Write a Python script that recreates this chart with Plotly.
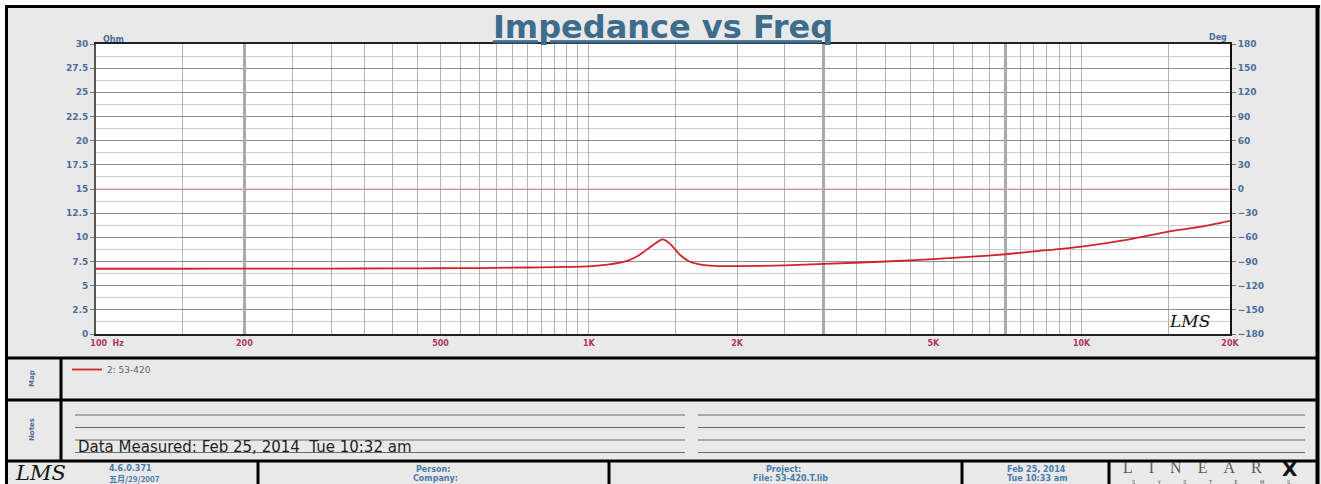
import math
import plotly.graph_objects as go

# ---------------- data ----------------
freq_hz = [100, 150, 200, 300, 400, 500, 600, 700, 800, 900, 1000, 1100, 1200, 1260,
           1300, 1350, 1380, 1410, 1440, 1480, 1530, 1600, 1700, 1800, 2000, 2500,
           3000, 4000, 5000, 6000, 7000, 8000, 10000, 12500, 15000, 17500, 20000]
impedance_ohm = [6.75, 6.75, 6.76, 6.77, 6.78, 6.80, 6.82, 6.86, 6.90, 6.94, 7.00, 7.20, 7.60, 8.10,
                 8.60, 9.20, 9.55, 9.78, 9.60, 9.05, 8.20, 7.50, 7.15, 7.05, 7.02, 7.10,
                 7.25, 7.50, 7.75, 8.00, 8.25, 8.55, 9.05, 9.80, 10.60, 11.10, 11.70]
# phase curve is not displayed in the reference (empty series keeps the Deg axis)
phase_deg = [None] * len(freq_hz)
phase_ref_deg = 0
series_name = "2: 53-420"

x_label_vals = [100, 200, 500, 1000, 2000, 5000, 10000, 20000]
x_label_text = ["\u00a0" * 8 + "100\u00a0\u00a0Hz", "200", "500", "1K", "2K", "5K", "10K", "20K"]
x_thick_grid = [200, 3000, 7000]
ohm_range = [0, 30]
deg_range = [-180, 180]

# gridlines every half of a decade step (50 Hz, 500 Hz, 5 kHz)
_grid = set()
for dec in (100, 1000, 10000):
    for k in range(2, 21):
        v = int(dec * k / 2)
        if 100 <= v <= 20000:
            _grid.add(v)
x_grid_vals = sorted(_grid)
x_grid_text = [x_label_text[x_label_vals.index(v)] if v in x_label_vals else "" for v in x_grid_vals]

# ---------------- geometry ----------------
W, H = 1321, 484
ML, MR, MT, MB = 96, 91, 44, 150
PW = W - ML - MR
PH = H - MT - MB


def px(x):
    return (x - ML) / PW


def py(y):
    return (H - MB - y) / PH


BLUE = "#4b6f9c"
FOOT = "#4a79ab"
FONT = "DejaVu Sans"

fig = go.Figure()
fig.add_trace(go.Scatter(
    x=freq_hz, y=phase_deg, mode="lines", xaxis="x2", yaxis="y2",
    showlegend=False, hoverinfo="skip", line=dict(color="#3050c0", width=1),
))
fig.add_trace(go.Scatter(
    x=freq_hz, y=impedance_ohm, mode="lines", name=series_name,
    line=dict(color="#d2232a", width=1.8, shape="spline", smoothing=0.6),
    showlegend=True,
))

shapes = []

# 0 deg reference line on the phase axis
shapes.append(dict(type="line", xref="paper", yref="y2", x0=0, x1=1, y0=phase_ref_deg, y1=phase_ref_deg,
                   line=dict(color="#f2a0a0", width=1), layer="above"))


def hline(y, x0, x1, color="#000", width=3):
    shapes.append(dict(type="line", xref="paper", yref="paper", x0=px(x0), x1=px(x1),
                       y0=py(y), y1=py(y), line=dict(color=color, width=width), layer="above"))


def vline(x, y0, y1, color="#000", width=3):
    shapes.append(dict(type="line", xref="paper", yref="paper", x0=px(x), x1=px(x),
                       y0=py(y0), y1=py(y1), line=dict(color=color, width=width), layer="above"))


# white outside margins
shapes.append(dict(type="rect", xref="paper", yref="paper", x0=px(0), x1=px(W), y0=py(0), y1=py(5),
                   fillcolor="white", line=dict(width=0), layer="above"))
shapes.append(dict(type="rect", xref="paper", yref="paper", x0=px(0), x1=px(5), y0=py(0), y1=py(H),
                   fillcolor="white", line=dict(width=0), layer="above"))
# outer frame
vline(6.5, 5, H, width=3)
hline(6.5, 5, 1320, width=3)
vline(1317.5, 5, H, width=4)
# section separators
hline(358, 6, 1318)
hline(400, 6, 1318)
hline(461, 6, 1318)
vline(61, 358, 461)
for xv in (258, 609, 962, 1109):
    vline(xv, 461, H)
# note lines
for yv in (415, 427.5, 440, 452.5):
    hline(yv, 75, 685, color="#6a6a6a", width=1)
    hline(yv, 698, 1305, color="#6a6a6a", width=1)

ann = []


def text(x, y, s, size=8, color=FOOT, xanchor="center", bold=True, family=FONT, angle=0, italic=False):
    ann.append(dict(x=px(x), y=py(y), xref="paper", yref="paper", text=s, showarrow=False,
                    xanchor=xanchor, yanchor="middle", textangle=angle,
                    font=dict(family=family, size=size, color=color,
                              weight="bold" if bold else "normal",
                              style="italic" if italic else "normal")))


text(101, 39, "Ohm", size=8, color=BLUE, xanchor="left")
text(1229, 38, "Deg", size=8, color=BLUE, xanchor="right")
text(1189, 321, "LMS", size=17, color="#111", bold=False, family="DejaVu Serif", italic=True)
text(32, 379, "Map", size=7, color=BLUE, angle=-90)
text(32, 430, "Notes", size=7, color=BLUE, angle=-90)
text(76, 446.5, "Data Measured: Feb 25, 2014\u00a0\u00a0Tue 10:32 am", size=15, color="#1e1e1e",
     xanchor="left", bold=False)
# footer
text(40, 473, "LMS", size=21, color="#111", bold=False, family="DejaVu Serif", italic=True)
text(107, 468, "4.6.0.371", size=8, xanchor="left")
text(107, 478, "五月/29/2007", size=8, xanchor="left", family="Noto Sans CJK SC")
text(433, 469, "Person:", size=8)
text(435, 478, "Company:", size=8)
text(783, 469, "Project:", size=8)
text(790, 478, "File: 53-420.T.lib", size=8)
text(1036, 469, "Feb 25, 2014", size=8)
text(1037, 478, "Tue 10:33 am", size=8)
text(1192, 467, "L\u2003I\u2003N\u2003E\u2003A\u2003R", size=16, color="#5a5a5a",
     bold=False, family="Liberation Serif")
text(1290, 469, "X", size=20, color="#111", bold=True, family="DejaVu Sans")
text(1211, 481.5, ("\u2003" * 4 + "\u2002").join("SYSTEMS"), size=5, color="#555", bold=False)

tickfont = dict(family=FONT, size=9, color=BLUE, weight="bold")
xrange_log = [math.log10(100), math.log10(20000)]

fig.update_layout(
    width=W, height=H,
    margin=dict(l=ML, r=MR, t=MT, b=MB, autoexpand=False),
    paper_bgcolor="#e9e9e9",
    plot_bgcolor="white",
    title=dict(text="Impedance vs Freq", xref="container", yref="container",
               x=663 / W, y=1 - 27 / H, xanchor="center", yanchor="middle",
               font=dict(family=FONT, size=32, color="#3d6c8d", weight="bold", lineposition="under")),
    xaxis=dict(type="log", range=xrange_log,
               tickmode="array", tickvals=x_grid_vals, ticktext=x_grid_text,
               showgrid=True, gridcolor="#b2b2b2", gridwidth=1.2, ticks="",
               tickfont=dict(family=FONT, size=8, color="#b0385c", weight="bold"),
               showline=True, linecolor="#222", linewidth=2, mirror=True,
               zeroline=False, fixedrange=True),
    xaxis2=dict(type="log", range=xrange_log, overlaying="x", anchor="y2",
                tickmode="array", tickvals=x_thick_grid, ticktext=["" for _ in x_thick_grid],
                showgrid=True, gridcolor="#aaaaaa", gridwidth=2.5, ticks="", showticklabels=False,
                showline=False, zeroline=False, fixedrange=True),
    yaxis=dict(range=ohm_range, tick0=0, dtick=2.5, showgrid=True, gridcolor="#8e8e8e", gridwidth=1,
               minor=dict(tick0=0, dtick=1.25, showgrid=True, gridcolor="#cdcdcd", gridwidth=1, ticks=""),
               ticks="outside", ticklen=4, tickcolor="#777", tickfont=tickfont,
               showline=True, linecolor="#555", linewidth=2, mirror=True, zeroline=False,
               fixedrange=True),
    yaxis2=dict(range=deg_range, tick0=0, dtick=30, overlaying="y", side="right", anchor="x2",
                showgrid=False, zeroline=False,
                ticks="outside", ticklen=4, tickcolor="#777", tickfont=tickfont,
                showline=True, linecolor="#111", linewidth=2, fixedrange=True),
    showlegend=True,
    legend=dict(x=px(67), y=py(355), xanchor="left", yanchor="top", bgcolor="rgba(0,0,0,0)",
                font=dict(family=FONT, size=9, color="#666"), itemwidth=30),
    shapes=shapes,
    annotations=ann,
)

fig.write_html("out.html", config={"displayModeBar": False},
               post_script="document.body.style.margin='0';document.body.style.overflow='hidden';")
